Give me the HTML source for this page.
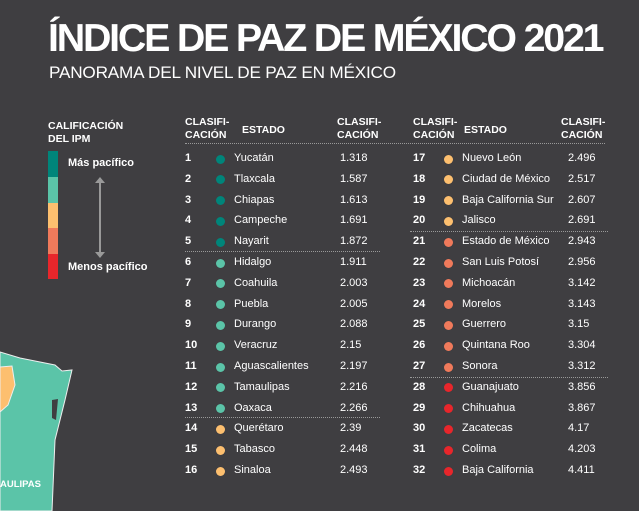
<!DOCTYPE html>
<html><head><meta charset="utf-8"><style>
body{margin:0;width:639px;height:511px;background:#3f3e41;overflow:hidden;position:relative;font-family:"Liberation Sans",sans-serif;color:#fff}
.a{position:absolute;white-space:nowrap}
.t{left:48px;top:17px;font-size:39px;font-weight:bold;letter-spacing:-2.2px;transform-origin:0 0;transform:scaleX(1.01)}
.s{left:49px;top:63px;font-size:17px;letter-spacing:-0.2px;transform-origin:0 0;transform:scaleX(1.01)}
.h{font-size:10.5px;font-weight:bold;line-height:13px}
.r{font-size:11px;font-weight:bold}
.n{font-size:11px}
.d{width:9px;height:9px;border-radius:50%;position:absolute}
.l{position:absolute;border-top:1px dotted #999;height:0}
</style></head><body>
<div class="a t">ÍNDICE DE PAZ DE MÉXICO 2021</div>
<div class="a s">PANORAMA DEL NIVEL DE PAZ EN MÉXICO</div>
<div class="a h" style="left:48px;top:120px">CALIFICACIÓN<br>DEL IPM</div>
<div class="a" style="left:48px;top:151px;width:10px;height:26px;background:#00857a"></div>
<div class="a" style="left:48px;top:177px;width:10px;height:26px;background:#5bc4a8"></div>
<div class="a" style="left:48px;top:203px;width:10px;height:25px;background:#fdbf6f"></div>
<div class="a" style="left:48px;top:228px;width:10px;height:26px;background:#f07a5b"></div>
<div class="a" style="left:48px;top:254px;width:10px;height:25px;background:#e8262b"></div>
<div class="a r" style="left:68px;top:157px">Más pacífico</div>
<div class="a r" style="left:68px;top:261px">Menos pacífico</div>
<svg class="a" style="left:90px;top:175px" width="20" height="85"><line x1="10" y1="4" x2="10" y2="80" stroke="#999" stroke-width="2"/><polygon points="5,8 15,8 10,2" fill="#999"/><polygon points="5,77 15,77 10,83" fill="#999"/></svg>
<svg class="a" style="left:0;top:340px" width="80" height="171"><path d="M0,12 L20,18 L55,25 L62,31 L72,30 L65,60 L55,100 L52,171 L0,171 Z" fill="#5bc4a8" stroke="#eee" stroke-width="1"/><path d="M0,27 L12,26 L15,45 L8,65 L0,72 Z" fill="#fdbf6f" stroke="#eee" stroke-width="1"/><path d="M52,60 L58,59 L56,80 L52,78 Z" fill="#3f3e41"/></svg>
<div class="a" style="left:0;top:479px;font-size:9.5px;font-weight:bold">AULIPAS</div>
<div class="a h" style="left:185px;top:116px">CLASIFI-<br>CACIÓN</div>
<div class="a h" style="left:242px;top:124px">ESTADO</div>
<div class="a h" style="left:337px;top:116px">CLASIFI-<br>CACIÓN</div>
<div class="a h" style="left:413px;top:116px">CLASIFI-<br>CACIÓN</div>
<div class="a h" style="left:464px;top:124px">ESTADO</div>
<div class="a h" style="left:561px;top:116px">CLASIFI-<br>CACIÓN</div>
<div class="l" style="left:185px;top:143px;width:420px"></div>
<div class="l" style="left:185px;top:251px;width:195px"></div>
<div class="l" style="left:185px;top:417px;width:195px"></div>
<div class="l" style="left:410px;top:231px;width:198px"></div>
<div class="l" style="left:410px;top:377px;width:198px"></div>
<div id="rows"></div>
<script>
var L=[["Yucatán","1.318",0],["Tlaxcala","1.587",0],["Chiapas","1.613",0],["Campeche","1.691",0],["Nayarit","1.872",0],["Hidalgo","1.911",1],["Coahuila","2.003",1],["Puebla","2.005",1],["Durango","2.088",1],["Veracruz","2.15",1],["Aguascalientes","2.197",1],["Tamaulipas","2.216",1],["Oaxaca","2.266",1],["Querétaro","2.39",2],["Tabasco","2.448",2],["Sinaloa","2.493",2],
["Nuevo León","2.496",2],["Ciudad de México","2.517",2],["Baja California Sur","2.607",2],["Jalisco","2.691",2],["Estado de México","2.943",3],["San Luis Potosí","2.956",3],["Michoacán","3.142",3],["Morelos","3.143",3],["Guerrero","3.15",3],["Quintana Roo","3.304",3],["Sonora","3.312",3],["Guanajuato","3.856",4],["Chihuahua","3.867",4],["Zacatecas","4.17",4],["Colima","4.203",4],["Baja California","4.411",4]];
var C=["#00857a","#5bc4a8","#fdbf6f","#f07a5b","#e8262b"];var h="";
L.forEach(function(e,i){var c=i<16?0:1,k=i%16,y=152+k*20.8,x=c?413:185;
h+='<div class="a r" style="left:'+x+'px;top:'+y+'px">'+(i+1)+'</div>';
h+='<div class="d" style="left:'+(x+31)+'px;top:'+(y+2.5)+'px;background:'+C[e[2]]+'"></div>';
h+='<div class="a n" style="left:'+(x+49)+'px;top:'+y+'px">'+e[0]+'</div>';
h+='<div class="a n" style="left:'+(x+155)+'px;top:'+y+'px">'+e[1]+'</div>';});
document.getElementById("rows").innerHTML=h;
</script>
</body></html>
